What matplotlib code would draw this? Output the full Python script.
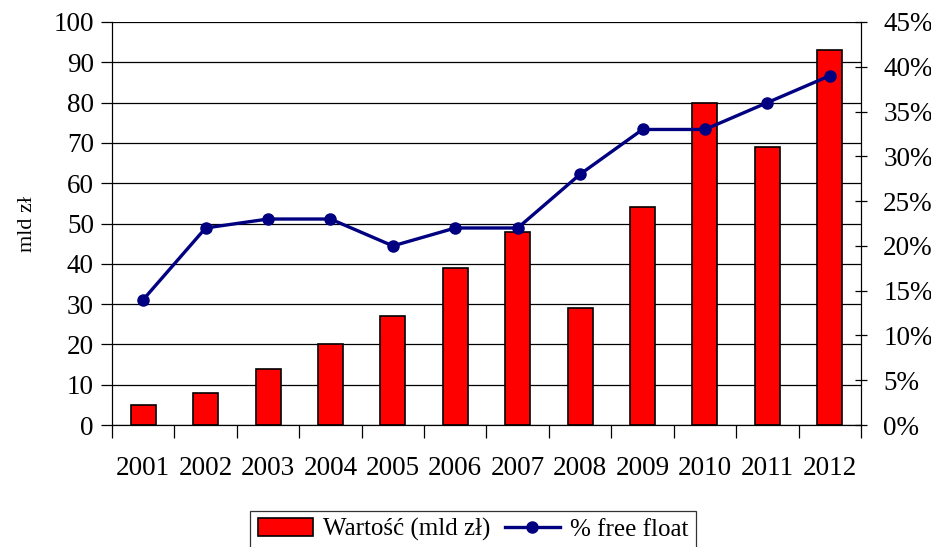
import matplotlib.pyplot as plt
import numpy as np
from matplotlib.ticker import FuncFormatter, MultipleLocator

plt.rcParams['font.family'] = ['Liberation Serif', 'DejaVu Serif']

# dane
lata = ['2001', '2002', '2003', '2004', '2005', '2006', '2007', '2008', '2009', '2010', '2011', '2012']
wartosc = [5, 8, 14, 20, 27, 39, 48, 29, 54, 80, 69, 93]
free_float = [14, 22, 23, 23, 20, 22, 22, 28, 33, 33, 36, 39]

fig = plt.figure(figsize=(9.31, 5.47), dpi=100)
ax = fig.add_axes([0.1203, 0.223, 0.8045, 0.7368])
x = np.arange(len(lata))

bars = ax.bar(x, wartosc, width=0.4, color='#ff0000', edgecolor='black', linewidth=1.2,
              label='Wartość (mld zł)', zorder=3)
ax.set_xlim(-0.5, len(lata) - 0.5)
ax.set_ylim(0, 100)
ax.yaxis.set_major_locator(MultipleLocator(10))
ax.grid(axis='y', color='black', linewidth=0.9, zorder=0)
ax.set_axisbelow(True)
ax.set_ylabel('mld zł', fontsize=16, labelpad=12)

# podpisy lat bez kresek, kreski na granicach kategorii
ax.set_xticks(x)
ax.set_xticklabels(lata)
ax.tick_params(axis='x', which='major', length=0, pad=22, labelsize=19.5)
ax.set_xticks(np.arange(-0.5, len(lata), 1), minor=True)
ax.tick_params(axis='x', which='minor', length=9, direction='out', width=0.9)
ax.tick_params(axis='y', length=8, direction='out', labelsize=19.5, width=0.9, pad=5)

ax.spines['top'].set_visible(False)

ax2 = ax.twinx()
linia, = ax2.plot(x, free_float, color='#000080', linewidth=2.4, marker='o', markersize=8,
                  label='% free float', zorder=4)
ax2.set_ylim(0, 45)
ax2.yaxis.set_major_locator(MultipleLocator(5))
ax2.yaxis.set_major_formatter(FuncFormatter(lambda v, p: '%d%%' % v))
ax2.tick_params(axis='y', length=8, direction='inout', labelsize=19.5, width=0.9, pad=12)
ax2.spines['top'].set_visible(False)

leg = fig.legend([bars, linia], ['Wartość (mld zł)', '% free float'], loc='lower center',
                 bbox_to_anchor=(0.508, -0.026), ncol=2, fontsize=18, frameon=True,
                 fancybox=False, edgecolor='black', handlelength=2.2, handletextpad=0.4,
                 columnspacing=0.6, borderpad=0.3)
leg.get_frame().set_linewidth(0.9)

fig.savefig('out.png', dpi=100)
